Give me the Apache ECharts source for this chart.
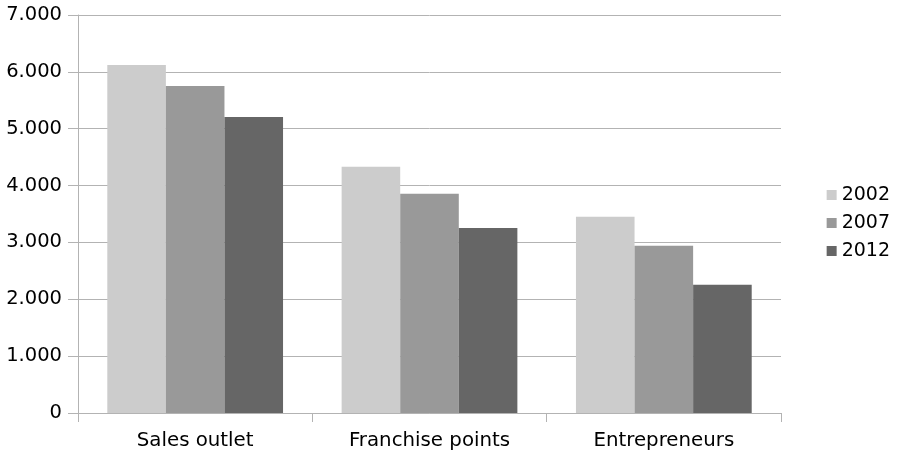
<!DOCTYPE html>
<html><head><meta charset="utf-8">
<script src="https://cdn.jsdelivr.net/npm/echarts@6/dist/echarts.min.js"></script>
<style>html,body{margin:0;padding:0;background:#fff}#c{width:897px;height:450px}</style>
</head><body><div id="c"></div>
<script>
var categories = ['Sales outlet', 'Franchise points', 'Entrepreneurs'];
var seriesNames = ['2002', '2007', '2012'];
var values2002 = [6120, 4330, 3450];
var values2007 = [5750, 3855, 2940];
var values2012 = [5205, 3255, 2255];
var colors = ['#cccccc', '#999999', '#666666'];
var allValues = [values2002, values2007, values2012];

var chart = echarts.init(document.getElementById('c'), null, {renderer: 'canvas'});
var font = 'DejaVu Sans';
chart.setOption({
  animation: false,
  color: colors,
  textStyle: {fontFamily: font},
  grid: {left: 78, right: 116, top: 15, bottom: 37, containLabel: false, outerBoundsMode: 'none'},
  legend: {
    orient: 'vertical', right: 2, top: 180, itemWidth: 10, itemHeight: 10, itemGap: 8,
    icon: 'rect', data: seriesNames,
    textStyle: {fontFamily: font, fontSize: 19, lineHeight: 20, color: '#000', padding: [0, 0, 0, 0]}
  },
  xAxis: {
    type: 'category', data: categories,
    axisLine: {lineStyle: {color: '#b3b3b3', width: 1}},
    axisTick: {show: true, length: 9, lineStyle: {color: '#b3b3b3'}},
    axisLabel: {fontFamily: font, fontSize: 19.8, color: '#000', margin: 18}
  },
  yAxis: {
    type: 'value', min: 0, max: 7000, interval: 1000,
    axisLine: {show: true, lineStyle: {color: '#b3b3b3', width: 1}},
    axisTick: {show: true, length: 10, lineStyle: {color: '#b3b3b3'}},
    splitLine: {lineStyle: {color: '#b3b3b3', width: 1}},
    axisLabel: {
      fontFamily: font, fontSize: 19.5, color: '#000', margin: 16,
      formatter: function (v) { return String(v).replace(/\B(?=(\d{3})+(?!\d))/g, '.'); }
    }
  },
  series: seriesNames.map(function (n, i) {
    return {
      name: n, type: 'bar', data: allValues[i],
      barGap: '0%', barCategoryGap: '25%',
      itemStyle: {color: colors[i]}
    };
  })
});
</script></body></html>
